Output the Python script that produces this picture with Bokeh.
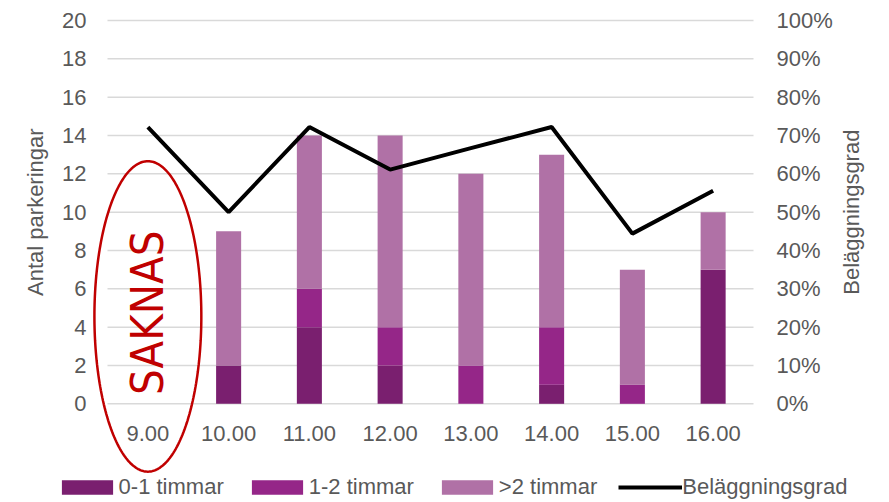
import math
import numpy as np
from bokeh.plotting import figure
from bokeh.models import (ColumnDataSource, Range1d, Legend, LegendItem, PolyAnnotation)
from bokeh.core.properties import value
from bokeh.embed import file_html
from bokeh.resources import INLINE

# ---- data ----
categories = ["9.00", "10.00", "11.00", "12.00", "13.00", "14.00", "15.00", "16.00"]
h01 = [0, 2, 4, 2, 0, 1, 0, 7]
h12 = [0, 0, 2, 2, 2, 3, 1, 0]
h2p = [0, 7, 8, 10, 10, 9, 6, 3]
occupancy = [0.722, 0.50, 0.722, 0.611, 0.667, 0.722, 0.444, 0.556]
series_names = ["0-1 timmar", "1-2 timmar", ">2 timmar"]
line_name = "Beläggningsgrad"
left_title = "Antal parkeringar"
left_ticks = list(range(0, 21, 2))
right_ticks = [i / 10 for i in range(11)]
missing_cat = "9.00"
missing_text = "SAKNAS"

colors = ["#7A1F6F", "#952688", "#B071A6"]
FONT = "Liberation Sans"
GREY = "#595959"
GRID = "#D9D9D9"
RED = "#C00000"

# ---- geometry (pixels) ----
W, H = 885, 500
PLOT_L, PLOT_R = 107, 753          # x of category band
Y0_PX, Y20_PX = 403.3, 20          # y of 0 and 20
n = len(categories)
kx = (PLOT_R - PLOT_L) / n          # px per category
ky = (Y0_PX - Y20_PX) / 20          # px per unit
ymax = left_ticks[-1]
x_lo = -PLOT_L / kx
x_hi = x_lo + W / kx
y_hi = ymax + Y20_PX / ky
y_lo = ymax - (H - Y20_PX) / ky

p = figure(x_range=Range1d(x_lo, x_hi), y_range=Range1d(y_lo, y_hi),
           width=W, height=H, output_backend="svg", toolbar_location=None,
           x_axis_location=None, y_axis_location=None,
           min_border=0, min_border_left=0, min_border_right=0,
           min_border_top=0, min_border_bottom=0)
p.outline_line_color = None
p.background_fill_color = "white"
p.grid.visible = False
p.extra_y_ranges = {"pct": Range1d(y_lo / ymax, y_hi / ymax)}

xpos = [i + 0.5 for i in range(n)]
src = ColumnDataSource(dict(x=xpos, cat=categories, occ=occupancy,
                            **{series_names[0]: h01, series_names[1]: h12, series_names[2]: h2p}))

# horizontal gridlines (left scale)
p.segment(x0=[0] * len(left_ticks), x1=[n] * len(left_ticks), y0=left_ticks, y1=left_ticks,
          line_color=GRID, line_width=1.5)

bars = p.vbar_stack(series_names, x="x", width=0.31, color=colors, source=src,
                    line_color=None)
ln = p.line(x="x", y="occ", y_range_name="pct", source=src, line_color="black",
            line_width=4)

txt = dict(text_font=value(FONT), text_font_size="22px", text_color=GREY,
           text_baseline="middle")

# left tick labels
p.text(x=[-21 / kx] * len(left_ticks), y=left_ticks, text=[str(v) for v in left_ticks],
       text_align="right", **txt)
# right tick labels
p.text(x=[n + 23 / kx] * len(right_ticks), y=right_ticks, y_range_name="pct",
       text=[f"{round(v * 100)}%" for v in right_ticks], text_align="left", **txt)
# category labels
p.text(x=xpos, y=[-30 / ky] * n, text=categories, text_align="center", **txt)
# axis titles
p.text(x=[-(PLOT_L - 35) / kx], y=[ymax / 2], text=[left_title], angle=math.pi / 2,
       text_align="center", **txt)
p.text(x=[n + (850.5 - PLOT_R) / kx], y=[ymax / 2], text=[line_name], angle=math.pi / 2,
       text_align="center", **txt)

# missing-data marker
ci = categories.index(missing_cat) + 0.5
t = np.linspace(0, 2 * np.pi, 241)
ell = PolyAnnotation(xs=list(ci + 0.662 * np.cos(t)), ys=list(4.56 + 8.1 * np.sin(t)),
                     fill_alpha=0, line_color=RED, line_alpha=1, line_width=2.5)
p.add_layout(ell)
p.text(x=[ci], y=[4.75], text=[missing_text], angle=math.pi / 2,
       text_align="center", text_baseline="middle",
       text_font=value("DejaVu Sans Condensed, Liberation Sans"),
       text_font_size="45px", text_color=RED)

# legend
items = [LegendItem(label=s, renderers=[r]) for s, r in zip(series_names, bars)]
items.append(LegendItem(label=line_name, renderers=[ln]))
legend = Legend(items=items, orientation="horizontal", location=(54.6, 0),
                glyph_width=64, glyph_height=18, label_standoff=0, spacing=21,
                padding=0, margin=0, border_line_color=None, background_fill_alpha=0,
                label_text_font=FONT, label_text_font_size="22px", label_text_color=GREY)
p.add_layout(legend)

open("out.html", "w").write(file_html(p, INLINE))
